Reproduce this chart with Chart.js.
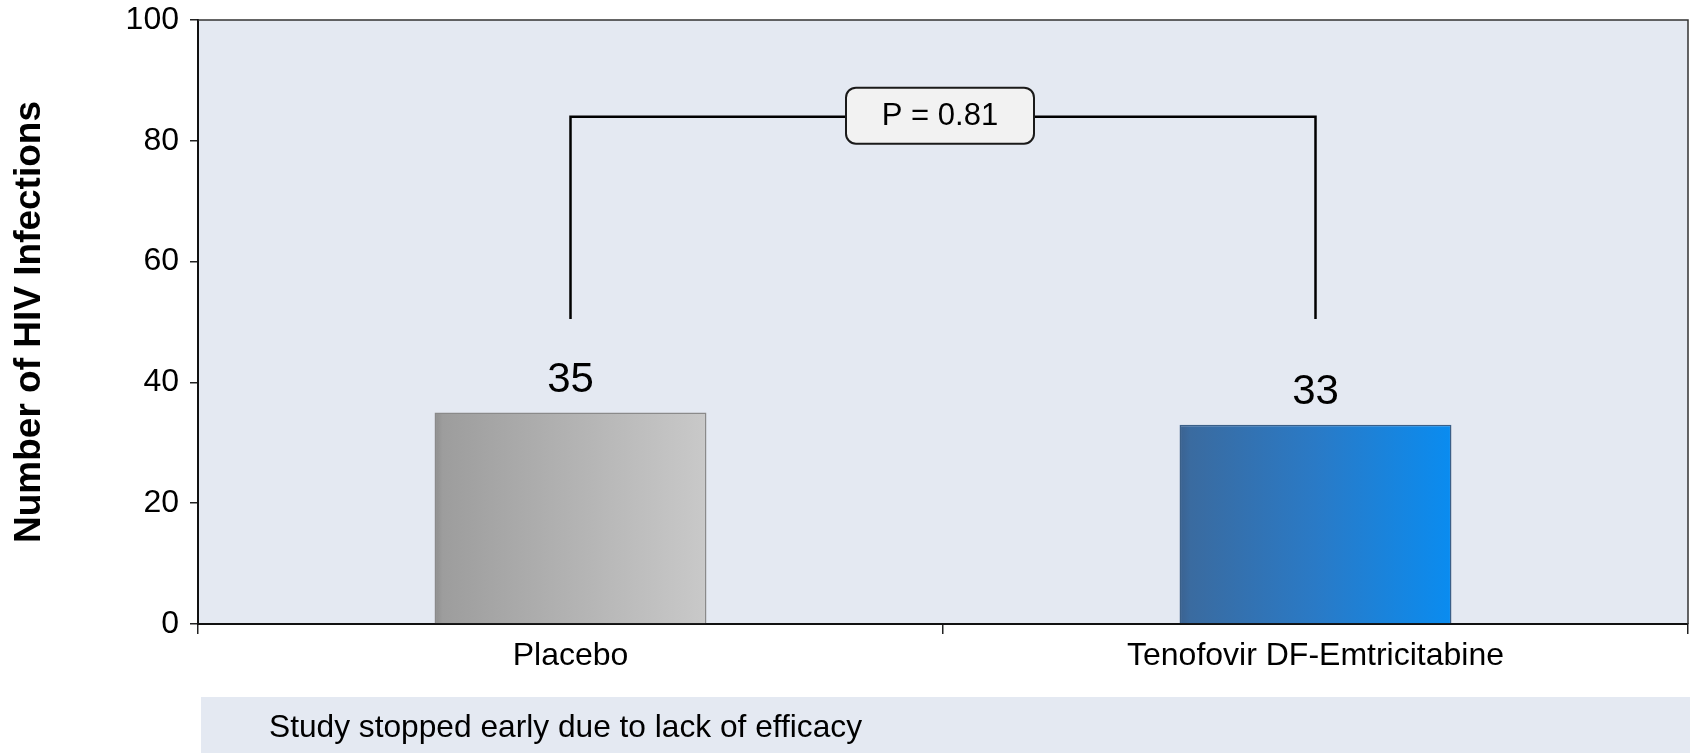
<!DOCTYPE html>
<html>
<head>
<meta charset="utf-8">
<script src="https://cdn.jsdelivr.net/npm/chart.js@4.4.1/dist/chart.umd.min.js"></script>
<style>
  html, body { margin: 0; padding: 0; background: #ffffff; }
  #wrap { width: 1690px; height: 753px; }
</style>
</head>
<body>
<div id="wrap"><canvas id="hiv_chart" width="1690" height="753"></canvas></div>
<script>
// chart data
const categories = ['Placebo', 'Tenofovir DF-Emtricitabine'];
const infections = [35, 33];
const yTicks = [0, 20, 40, 60, 80, 100];
const pValueText = 'P = 0.81';
const bracketRange = [50.5, 84];   // bottom / top of the comparison bracket
const footNote = 'Study stopped early due to lack of efficacy';

const barPct = 0.365;
const plotBg = '#e4e9f2';
const fills = [
      [[0, '#8e8e8e'], [0.03, '#9d9d9d'], [1, '#c9c9c9']],
      [[0, '#3b6290'], [0.04, '#3a6ba0'], [0.5, '#2a7ac6'], [1, '#0a8cf0']]
];
const edges = ['#8a8a8a', '#3a5f88'];

function barFill(ctx)
{
      const chart = ctx.chart;
      const x = chart.scales.x;
      const stops = fills[ctx.dataIndex];
      if (!chart.chartArea || !x) return stops[1][1];
      const cx = x.getPixelForValue(ctx.dataIndex);
      const half = (x.width / categories.length) * barPct / 2;
      const g = chart.ctx.createLinearGradient(cx - half, 0, cx + half, 0);
      stops.forEach(function (s) { g.addColorStop(s[0], s[1]); });
      return g;
}

const plotDecor = {
      id: 'plotDecor',
      beforeDraw(chart)
      {
            const a = chart.chartArea;
            const c = chart.ctx;
            c.save();
            c.fillStyle = plotBg;
            c.fillRect(a.left, a.top, a.right - a.left, a.bottom - a.top);
            c.restore();
      },
      afterDatasetsDraw(chart)
      {
            const c = chart.ctx;
            const a = chart.chartArea;
            const xs = chart.scales.x;
            const ys = chart.scales.y;

            // frame top / right
            c.save();
            c.strokeStyle = '#333333';
            c.lineWidth = 1.5;
            c.beginPath();
            c.moveTo(a.left, a.top);
            c.lineTo(a.right, a.top);
            c.lineTo(a.right, a.bottom);
            c.stroke();

            // value labels
            const meta = chart.getDatasetMeta(0);
            c.fillStyle = '#000000';
            c.font = '42px "Liberation Sans", Arial, sans-serif';
            c.textAlign = 'center';
            c.textBaseline = 'alphabetic';
            meta.data.forEach(function (bar, i)
            {
                  c.fillText(String(infections[i]), bar.x, bar.y - 21);
            });

            // comparison bracket
            const xa = xs.getPixelForValue(0);
            const xb = xs.getPixelForValue(1);
            const yTop = ys.getPixelForValue(bracketRange[1]);
            const yBot = ys.getPixelForValue(bracketRange[0]);
            c.strokeStyle = '#000000';
            c.lineWidth = 2.5;
            c.beginPath();
            c.moveTo(xa, yBot);
            c.lineTo(xa, yTop);
            c.lineTo(xb, yTop);
            c.lineTo(xb, yBot);
            c.stroke();

            // p value box
            const bw = 188, bh = 56;
            const bx = (xa + xb) / 2 - bw / 2 - 3;
            const by = yTop - bh / 2 - 1;
            c.beginPath();
            c.roundRect(bx, by, bw, bh, 10);
            c.fillStyle = '#f2f2f2';
            c.fill();
            c.lineWidth = 2;
            c.strokeStyle = '#1a1a1a';
            c.stroke();
            c.fillStyle = '#000000';
            c.font = '31px "Liberation Sans", Arial, sans-serif';
            c.textBaseline = 'middle';
            c.fillText(pValueText, bx + bw / 2, by + bh / 2 + 1);
            c.restore();
      },
      afterDraw(chart)
      {
            const c = chart.ctx;
            const a = chart.chartArea;
            c.save();
            c.fillStyle = plotBg;
            c.fillRect(a.left + 3, 697, chart.width - a.left - 3, 56);
            c.fillStyle = '#000000';
            c.font = '31.7px "Liberation Sans", Arial, sans-serif';
            c.textAlign = 'left';
            c.textBaseline = 'alphabetic';
            c.fillText(footNote, a.left + 71, 737);
            c.restore();
      }
};

const config = {
      type: 'bar',
      data: {
            labels: categories,
            datasets: [{
                  label: 'HIV infections',
                  data: infections,
                  backgroundColor: barFill,
                  borderColor: edges,
                  borderWidth: 1.5,
                  barPercentage: barPct,
                  categoryPercentage: 1
            }]
      },
      options: {
            responsive: false,
            animation: false,
            devicePixelRatio: 1,
            layout: {
                  padding: { top: 20, right: 2, left: 0, bottom: 0 }
            },
            scales: {
                  x: {
                        afterFit: function (s)
                        {
                              s.height = 129;
                              s.paddingLeft = 0;
                              s.paddingRight = 0;
                        },
                        grid: {
                              offset: true,
                              drawOnChartArea: false,
                              drawTicks: true,
                              tickLength: 10,
                              color: '#222222',
                              lineWidth: 1.5
                        },
                        border: { display: true, color: '#111111', width: 2 },
                        ticks: {
                              color: '#000000',
                              padding: 3,
                              font: { family: '"Liberation Sans", Arial, sans-serif', size: 32 }
                        }
                  },
                  y: {
                        min: 0,
                        max: 100,
                        afterFit: function (s)
                        {
                              s.width = 198;
                              s.paddingTop = 0;
                              s.paddingBottom = 0;
                        },
                        afterBuildTicks: function (s) { s.ticks = yTicks.map(function (v) { return { value: v }; }); },
                        grid: {
                              drawOnChartArea: false,
                              drawTicks: true,
                              tickLength: 8,
                              color: '#222222',
                              lineWidth: 1.5
                        },
                        border: { display: true, color: '#111111', width: 2 },
                        ticks: {
                              color: '#000000',
                              padding: 11,
                              font: { family: '"Liberation Sans", Arial, sans-serif', size: 32 }
                        },
                        title: {
                              display: true,
                              text: 'Number of HIV Infections',
                              color: '#000000',
                              padding: { top: 8, bottom: 0 },
                              font: { family: '"Liberation Sans", Arial, sans-serif', size: 37, weight: 'bold' }
                        }
                  }
            },
            plugins: {
                  legend: { display: false },
                  tooltip: { enabled: false }
            }
      },
      plugins: [plotDecor]
};

new Chart(document.getElementById('hiv_chart'), config);
</script>
</body>
</html>
